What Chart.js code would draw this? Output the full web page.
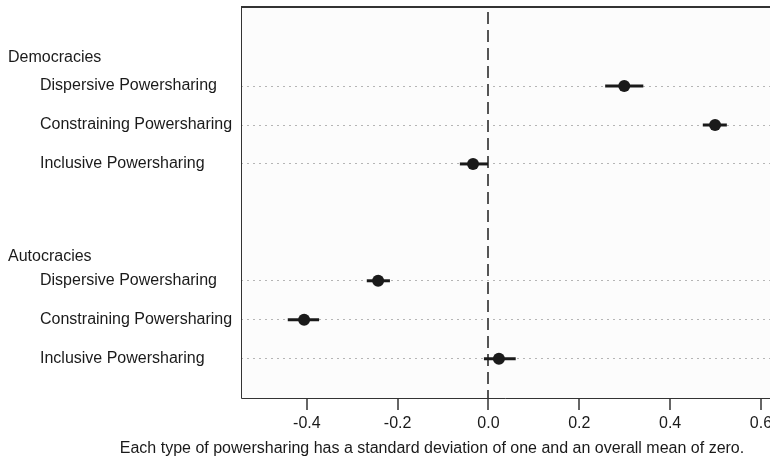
<!DOCTYPE html>
<html>
<head>
<meta charset="utf-8">
<script src="https://cdn.jsdelivr.net/npm/chart.js@4.4.1/dist/chart.umd.min.js"></script>
<style>
  html, body { margin: 0; padding: 0; background: #fff; }
  #wrap { width: 770px; height: 466px; }
</style>
</head>
<body>
<div id="wrap"><canvas id="c" width="770" height="466"></canvas></div>
<script>
// groups and their rows (row index on the vertical axis)
const groupNames = ['Democracies', 'Autocracies'];
const groupPos = [-0.72, 4.38];
const rowLabels = [
  'Dispersive Powersharing', 'Constraining Powersharing', 'Inclusive Powersharing',
  'Dispersive Powersharing', 'Constraining Powersharing', 'Inclusive Powersharing'
];
const rowPos = [0, 1, 2, 5, 6, 7];
// point estimates and interval ends
const est = [0.299, 0.499, -0.034, -0.243, -0.406, 0.023];
const lo = [0.257, 0.472, -0.063, -0.268, -0.442, -0.010];
const hi = [0.341, 0.525, -0.001, -0.217, -0.373, 0.060];
const xTicks = [-0.4, -0.2, 0.0, 0.2, 0.4, 0.6];
const caption = 'Each type of powersharing has a standard deviation of one and an overall mean of zero.';

const FONT = '"Liberation Sans", Arial, Helvetica, sans-serif';

const decor = {
  id: 'decor',
  beforeDraw(chart) {
    const { ctx, chartArea: a } = chart;
    ctx.save();
    ctx.fillStyle = '#fcfcfc';
    ctx.fillRect(a.left, a.top, a.right - a.left, a.bottom - a.top);
    ctx.restore();
  },
  beforeDatasetsDraw(chart) {
    const { ctx, chartArea: a, scales: { x, y } } = chart;
    ctx.save();
    // zero line
    ctx.strokeStyle = '#555';
    ctx.lineWidth = 2;
    ctx.setLineDash([12, 6]);
    const x0 = Math.round(x.getPixelForValue(0));
    ctx.beginPath();
    ctx.moveTo(x0, a.top + 5);
    ctx.lineTo(x0, a.bottom);
    ctx.stroke();
    ctx.setLineDash([]);
    // intervals
    ctx.strokeStyle = '#1a1a1a';
    ctx.lineWidth = 3;
    for (let i = 0; i < est.length; i++) {
      const py = y.getPixelForValue(rowPos[i]);
      ctx.beginPath();
      ctx.moveTo(x.getPixelForValue(lo[i]), py);
      ctx.lineTo(x.getPixelForValue(hi[i]), py);
      ctx.stroke();
    }
    ctx.restore();
  },
  afterDraw(chart) {
    const { ctx, chartArea: a, scales: { x, y } } = chart;
    ctx.save();
    // frame
    ctx.strokeStyle = '#333';
    ctx.lineWidth = 2;
    ctx.beginPath();
    ctx.moveTo(a.left, a.top);
    ctx.lineTo(a.right, a.top);
    ctx.stroke();
    ctx.lineWidth = 1;
    ctx.beginPath();
    ctx.moveTo(a.left + 0.5, a.top);
    ctx.lineTo(a.left + 0.5, a.bottom + 0.5);
    ctx.lineTo(a.right, a.bottom + 0.5);
    ctx.stroke();
    // x tick marks
    ctx.lineWidth = 1.5;
    xTicks.forEach(v => {
      const px = Math.round(x.getPixelForValue(v));
      ctx.beginPath();
      ctx.moveTo(px, a.bottom);
      ctx.lineTo(px, a.bottom + 12);
      ctx.stroke();
    });
    // labels
    ctx.fillStyle = '#1a1a1a';
    ctx.font = '16px ' + FONT;
    ctx.textBaseline = 'middle';
    ctx.textAlign = 'left';
    groupNames.forEach((g, i) => ctx.fillText(g, 8, y.getPixelForValue(groupPos[i])));
    rowLabels.forEach((r, i) => ctx.fillText(r, 40, y.getPixelForValue(rowPos[i])));
    ctx.textAlign = 'center';
    ctx.fillText(caption, 432, 449);
    ctx.restore();
  }
};

new Chart(document.getElementById('c'), {
  type: 'scatter',
  data: {
    datasets: [{
      data: est.map((v, i) => ({ x: v, y: rowPos[i] })),
      pointRadius: 6,
      pointHoverRadius: 6,
      pointBackgroundColor: '#1a1a1a',
      pointBorderWidth: 0
    }]
  },
  options: {
    responsive: false,
    animation: false,
    layout: { autoPadding: false, padding: { top: 7, right: 0, left: 0, bottom: 0 } },
    plugins: { legend: { display: false }, tooltip: { enabled: false } },
    scales: {
      x: {
        type: 'linear',
        min: -0.545,
        max: 0.62,
        afterBuildTicks: s => { s.ticks = xTicks.map(v => ({ value: v })); },
        afterFit: s => { s.height = 68; s.paddingRight = 0; s.paddingLeft = 0; },
        grid: { display: false, tickLength: 24 },
        border: { display: false },
        ticks: {
          padding: -8,
          color: '#1a1a1a',
          font: { family: FONT, size: 16 },
          callback: v => v.toFixed(1)
        }
      },
      y: {
        type: 'linear',
        reverse: true,
        min: -2.03,
        max: 8.01,
        afterBuildTicks: s => { s.ticks = rowPos.map(v => ({ value: v })); },
        afterFit: s => { s.width = 241; s.paddingTop = 0; s.paddingBottom = 0; },
        grid: { drawTicks: false, color: '#b5b5b5', lineWidth: 1 },
        border: { display: false, dash: [2, 4] },
        ticks: { display: false }
      }
    }
  },
  plugins: [decor]
});
</script>
</body>
</html>
